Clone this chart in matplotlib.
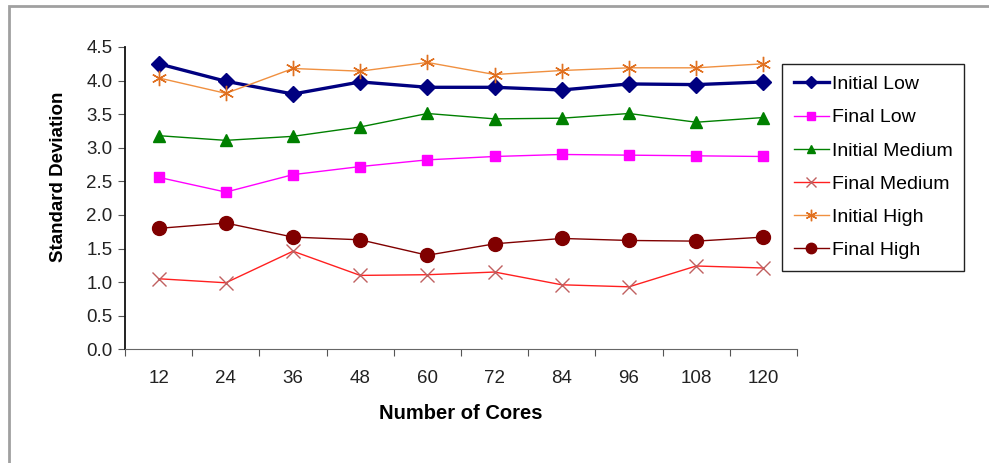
import numpy as np
import matplotlib.pyplot as plt
from matplotlib.patches import Rectangle

plt.rcParams['font.family'] = ['Liberation Sans', 'DejaVu Sans']

cores = ['12', '24', '36', '48', '60', '72', '84', '96', '108', '120']

initial_low = [4.25, 3.99, 3.80, 3.98, 3.90, 3.90, 3.86, 3.95, 3.94, 3.98]
final_low = [2.56, 2.34, 2.60, 2.72, 2.82, 2.87, 2.90, 2.89, 2.88, 2.87]
initial_medium = [3.18, 3.11, 3.17, 3.31, 3.51, 3.43, 3.44, 3.51, 3.38, 3.45]
final_medium = [1.05, 0.99, 1.46, 1.10, 1.11, 1.15, 0.96, 0.93, 1.24, 1.21]
initial_high = [4.04, 3.81, 4.18, 4.14, 4.27, 4.09, 4.15, 4.19, 4.19, 4.25]
final_high = [1.80, 1.88, 1.67, 1.63, 1.40, 1.57, 1.65, 1.62, 1.61, 1.67]

fig = plt.figure(figsize=(9.89, 4.63), dpi=100)
ax = fig.add_axes([0.1264, 0.2456, 0.6795, 0.6529])

x = np.arange(len(cores))
ax.plot(x, initial_low, color='#000080', lw=2.4, marker='D', ms=8,
        label='Initial Low')
ax.plot(x, final_low, color='#ff00ff', lw=1.0, marker='s', ms=7,
        label='Final Low')
ax.plot(x, initial_medium, color='#008000', lw=1.0, marker='^', ms=8,
        label='Initial Medium')
ax.plot(x, final_medium, color='#ff2020', lw=1.0, marker='x', ms=10,
        mew=1.0, mec='#c06060', label='Final Medium')
ax.plot(x, initial_high, color='#f09040', lw=1.0, marker=(6, 2, 0), ms=11,
        mew=1.0, mec='#e07020', label='Initial High')
ax.plot(x, final_high, color='#800000', lw=1.0, marker='o', ms=10,
        label='Final High')

ax.set_xlim(-0.5, len(cores) - 0.5)
ax.set_ylim(0, 4.5)
ax.set_yticks(np.arange(0, 4.51, 0.5))
ax.set_yticklabels(['%.1f' % v for v in np.arange(0, 4.51, 0.5)])

# category ticks sit between the labels, labels centred on the points
ax.set_xticks(np.arange(-0.5, len(cores), 1.0))
ax.set_xticklabels([])
ax.set_xticks(x, minor=True)
ax.set_xticklabels(cores, minor=True)
ax.tick_params(axis='x', which='major', length=5, direction='out', color='#555555')
ax.tick_params(axis='x', which='minor', length=0, pad=15, labelsize=13.5,
               labelcolor='#222222')
ax.tick_params(axis='y', length=5, direction='out', labelsize=13.5,
               labelcolor='#222222', color='#555555', pad=4)

for side in ['top', 'right']:
    ax.spines[side].set_visible(False)
ax.spines['left'].set_color('#111111')
ax.spines['bottom'].set_color('#666666')
ax.spines['left'].set_linewidth(1.3)

ax.set_xlabel('Number of Cores', fontsize=14.5, fontweight='bold', labelpad=12)
ax.set_ylabel('Standard Deviation', fontsize=13.5, fontweight='bold')
ax.yaxis.set_label_coords(-0.086, 0.57)

leg = ax.legend(loc='upper left', bbox_to_anchor=(782 / 989, 1 - 64 / 463),
                bbox_transform=fig.transFigure, fontsize=14, frameon=True,
                fancybox=False, edgecolor='#222222', framealpha=1,
                handlelength=1.8, handletextpad=0.15, labelspacing=0.8,
                borderpad=0.6, borderaxespad=0, markerscale=0.75)
leg.get_frame().set_linewidth(1.0)

# outer chart border
fig.patches.append(Rectangle((9 / 989, -0.1), 1.2, 1.1 - 6 / 463,
                             transform=fig.transFigure, fill=False,
                             edgecolor='#a0a0a0', lw=2, clip_on=False))

fig.savefig('out.png', dpi=100)
